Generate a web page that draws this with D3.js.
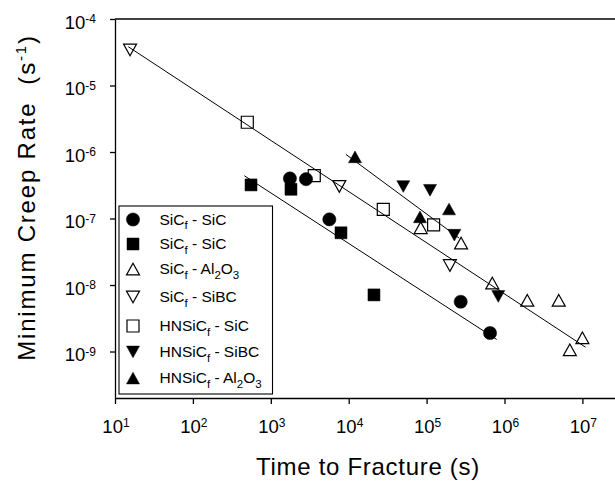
<!DOCTYPE html>
<html>
<head>
<meta charset="utf-8">
<script src="https://cdn.jsdelivr.net/npm/d3@7"></script>
<style>
	body { margin:0; background:#fff; }
	svg { display:block; font-family:"Liberation Sans", Arial, sans-serif; }
	.axis path, .axis line { stroke:#000; stroke-width:1.3; }
	.frame { stroke:#000; stroke-width:1.3; }
	.fit { stroke:#000; stroke-width:1; fill:none; }
	text { white-space:pre; }
</style>
</head>
<body>
<script>
(function(){

	//values: [time to fracture (s), minimum creep rate (1/s)]
	var sicSicA = [[1760, 4.0e-7], [2830, 3.9e-7], [5640, 9.7e-8], [274000, 5.6e-9], [652000, 1.9e-9]];
	var sicSicB = [[557, 3.2e-7], [1815, 2.75e-7], [7960, 6.1e-8], [21100, 7.1e-9]];
	var sicAl2o3 = [[84000, 6.8e-8], [277000, 4.0e-8], [697000, 1.0e-8], [1.96e6, 5.5e-9], [4.97e6, 5.5e-9], [1.0e7, 1.5e-9], [6.9e6, 9.9e-10]];
	var sicSibc = [[15.6, 3.67e-5], [7570, 3.24e-7], [199000, 2.1e-8]];
	var hnSic = [[499, 2.8e-6], [3614, 4.4e-7], [27800, 1.37e-7], [123000, 8.0e-8]];
	var hnSibc = [[50200, 3.24e-7], [110600, 2.84e-7], [227000, 6.0e-8], [832000, 7.2e-9]];
	var hnAl2o3 = [[12050, 7.9e-7], [82200, 9.9e-8], [194000, 1.3e-7]];

	//fitted lines, start and end point
	var fitLines = [
		[[14.8, 3.83e-5], [1.1e7, 1.16e-9]],
		[[9230, 9.2e-7], [260600, 5.1e-8]],
		[[457, 4.4e-7], [794000, 1.52e-9]]
	];

	var seriesData = [sicSicA, sicSicB, sicAl2o3, sicSibc, hnSic, hnSibc, hnAl2o3];
	var seriesSymbols = ["circle", "square", "up", "down", "square", "down", "up"];
	var seriesFilled = [true, true, false, false, false, true, true];
	//legend labels, pieces marked "sub" are subscripts
	var seriesLabels = [
		[["SiC"], ["f", "sub"], [" - SiC"]],
		[["SiC"], ["f", "sub"], [" - SiC"]],
		[["SiC"], ["f", "sub"], [" - Al"], ["2", "sub"], ["O"], ["3", "sub"]],
		[["SiC"], ["f", "sub"], [" - SiBC"]],
		[["HNSiC"], ["f", "sub"], [" - SiC"]],
		[["HNSiC"], ["f", "sub"], [" - SiBC"]],
		[["HNSiC"], ["f", "sub"], [" - Al"], ["2", "sub"], ["O"], ["3", "sub"]]
	];

	var xTicks = [1e1, 1e2, 1e3, 1e4, 1e5, 1e6, 1e7];
	var xTickExp = ["1", "2", "3", "4", "5", "6", "7"];
	var yTicks = [1e-4, 1e-5, 1e-6, 1e-7, 1e-8, 1e-9];
	var yTickExp = ["-4", "-5", "-6", "-7", "-8", "-9"];

	//legend row centres (layout only)
	var legendRows = [219.5, 244, 269, 297, 326, 352, 378];

	var width = 615,
		height = 490;

	var svg = d3.select("body")
		.append("svg")
		.attr("width", width)
		.attr("height", height);

	//log scales, plot runs past the right edge of the picture
	var x = d3.scaleLog()
		.domain([1e1, 1e8])
		.range([115, 660.3]);
	var y = d3.scaleLog()
		.domain([2e-10, 1e-4])
		.range([398, 19]);

	//marker shapes
	function symbolPath(type){
		if (type == "circle") return "M-6.6,0A6.6,6.6 0 1,0 6.6,0A6.6,6.6 0 1,0 -6.6,0Z";
		if (type == "square") return "M-6,-6H6V6H-6Z";
		if (type == "up") return "M0,-7.8L6.5,3.9L-6.5,3.9Z";
		return "M0,7.8L6.5,-3.9L-6.5,-3.9Z";
	}

	//write label pieces as tspans
	function richText(textSel, pieces, subSize, shift){
		var down = false;
		pieces.forEach(function(p){
			var t = textSel.append("tspan").text(p[0]);
			if (p[1] == "sub"){
				t.attr("font-size", subSize).attr("dy", down ? 0 : shift);
				down = true;
			} else if (p[1] == "sup"){
				t.attr("font-size", subSize).attr("dy", -shift);
				down = true;
			} else if (down){
				t.attr("dy", p[1] == undefined && pieces.indexOf(p) > 0 && pieces[pieces.indexOf(p) - 1][1] == "sup" ? shift : -shift);
				down = false;
			}
		});
	}

	//top frame line
	svg.append("line")
		.attr("class", "frame")
		.attr("x1", x(1e1))
		.attr("x2", x(1e8))
		.attr("y1", y(1e-4))
		.attr("y2", y(1e-4));

	//axes
	svg.append("g")
		.attr("class", "axis")
		.attr("transform", "translate(0," + y(2e-10) + ")")
		.call(d3.axisBottom(x).tickValues(xTicks).tickSize(6).tickSizeOuter(0).tickFormat(""));

	svg.append("g")
		.attr("class", "axis")
		.attr("transform", "translate(" + x(1e1) + ",0)")
		.call(d3.axisLeft(y).tickValues(yTicks).tickSize(5).tickSizeOuter(0).tickFormat(""));

	//tick labels 10^n
	xTicks.forEach(function(v, i){
		var t = svg.append("text")
			.attr("x", x(v) + 1)
			.attr("y", 432.5)
			.attr("text-anchor", "middle")
			.attr("font-size", "18.5px");
		t.append("tspan").text("10");
		t.append("tspan").attr("font-size", "12px").attr("dy", -5.5).text(xTickExp[i]);
	});

	yTicks.forEach(function(v, i){
		var t = svg.append("text")
			.attr("x", 96)
			.attr("y", y(v) + 9.5)
			.attr("text-anchor", "end")
			.attr("font-size", "18.5px");
		t.append("tspan").text("10");
		t.append("tspan").attr("font-size", "12px").attr("dy", -5.5).text(yTickExp[i]);
	});

	//axis titles
	svg.append("text")
		.attr("x", 368)
		.attr("y", 475)
		.attr("text-anchor", "middle")
		.attr("font-size", "24px")
		.attr("letter-spacing", "0.7px")
		.text("Time to Fracture (s)");

	var yTitle = svg.append("text")
		.attr("transform", "translate(35,197.5) rotate(-90)")
		.attr("text-anchor", "middle")
		.attr("font-size", "24px")
		.attr("letter-spacing", "1.8px");
	yTitle.append("tspan").text("Minimum Creep Rate  (s");
	yTitle.append("tspan").attr("font-size", "15px").attr("dy", -9).text("-1");
	yTitle.append("tspan").attr("dy", 9).text(")");

	//fitted lines
	svg.selectAll(".fit")
		.data(fitLines)
		.enter()
		.append("line")
		.attr("class", "fit")
		.attr("x1", function(d){ return x(d[0][0]); })
		.attr("y1", function(d){ return y(d[0][1]); })
		.attr("x2", function(d){ return x(d[1][0]); })
		.attr("y2", function(d){ return y(d[1][1]); });

	//points for every series
	seriesData.forEach(function(series, s){
		svg.selectAll(".pts" + s)
			.data(series)
			.enter()
			.append("path")
			.attr("class", "pts" + s)
			.attr("d", symbolPath(seriesSymbols[s]))
			.attr("transform", function(d){
				return "translate(" + x(d[0]) + "," + y(d[1]) + ")";
			})
			.attr("fill", seriesFilled[s] ? "#000" : "none")
			.attr("stroke", "#000")
			.attr("stroke-width", seriesFilled[s] ? 0.5 : 1.2);
	});

	//legend
	svg.append("rect")
		.attr("x", 119)
		.attr("y", 206)
		.attr("width", 153.5)
		.attr("height", 188)
		.attr("fill", "#fff")
		.attr("stroke", "#000")
		.attr("stroke-width", 1.1);

	seriesLabels.forEach(function(label, s){
		var rowY = legendRows[s];
		var off = seriesSymbols[s] == "up" ? 2 : (seriesSymbols[s] == "down" ? -2 : 0);
		svg.append("path")
			.attr("d", symbolPath(seriesSymbols[s]))
			.attr("transform", "translate(133," + (rowY + off) + ")")
			.attr("fill", seriesFilled[s] ? "#000" : "none")
			.attr("stroke", "#000")
			.attr("stroke-width", seriesFilled[s] ? 0.5 : 1.2);

		var t = svg.append("text")
			.attr("x", 159.5)
			.attr("y", rowY + 5)
			.attr("font-size", "15.5px");
		richText(t, label, "11.5px", 4.5);
	});

})();
</script>
</body>
</html>
